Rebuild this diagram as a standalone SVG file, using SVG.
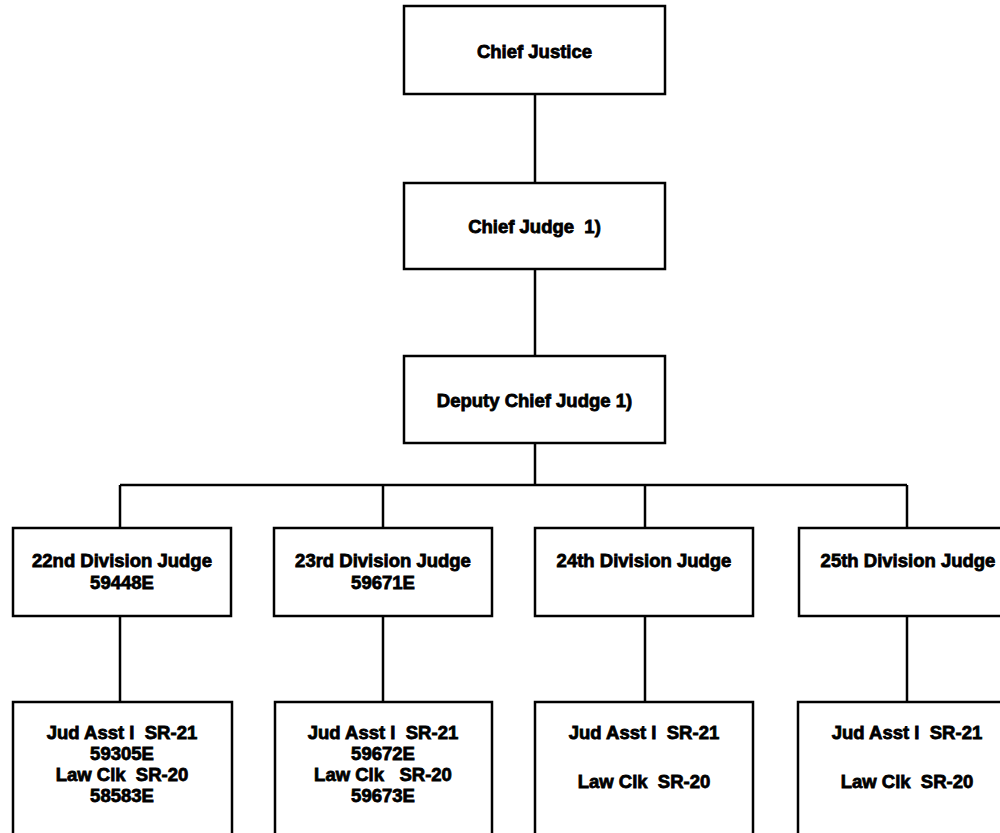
<svg xmlns="http://www.w3.org/2000/svg" width="1000" height="833" viewBox="0 0 1000 833">
<style>
.box{fill:#fff;stroke:#000;stroke-width:2.5}
.ln{fill:none;stroke:#000;stroke-width:2.5}
text{font-family:"Liberation Sans",Arial,sans-serif;font-weight:bold;font-size:18.5px;fill:#000;stroke:#000;stroke-width:0.8;text-anchor:middle;white-space:pre}
</style>
<rect width="1000" height="833" fill="#fff"/>
<g id="connectors">
<path class="ln" d="M535 94V183M535 269V356M535 443V485M120 485H907M120 485V528M383 485V528M645 485V528M907 485V528M120 616V702M383 616V702M645 616V702M907 616V702"/>
</g>
<g id="chief-justice"><rect class="box" x="404" y="6" width="261" height="88"/><text x="534.5" y="58">Chief Justice</text></g>
<g id="chief-judge"><rect class="box" x="404" y="183" width="261" height="86"/><text x="534.5" y="233">Chief Judge  1)</text></g>
<g id="deputy-chief-judge"><rect class="box" x="404" y="356" width="261" height="87"/><text x="534.5" y="407">Deputy Chief Judge 1)</text></g>
<g id="div22"><rect class="box" x="13" y="528" width="218" height="88"/><text x="122" y="567">22nd Division Judge</text><text x="122" y="589">59448E</text></g>
<g id="div23"><rect class="box" x="274" y="528" width="218" height="88"/><text x="383" y="567">23rd Division Judge</text><text x="383" y="589">59671E</text></g>
<g id="div24"><rect class="box" x="535" y="528" width="218" height="88"/><text x="644" y="567">24th Division Judge</text></g>
<g id="div25"><rect class="box" x="799" y="528" width="218" height="88"/><text x="908" y="567">25th Division Judge</text></g>
<g id="staff22"><rect class="box" x="13" y="702" width="219" height="140"/><text x="122" y="739">Jud Asst I  SR-21</text><text x="122" y="760">59305E</text><text x="122" y="781">Law Clk  SR-20</text><text x="122" y="802">58583E</text></g>
<g id="staff23"><rect class="box" x="275" y="702" width="217" height="140"/><text x="383" y="739">Jud Asst I  SR-21</text><text x="383" y="760">59672E</text><text x="383" y="781">Law Clk   SR-20</text><text x="383" y="802">59673E</text></g>
<g id="staff24"><rect class="box" x="535" y="702" width="218" height="140"/><text x="644" y="739">Jud Asst I  SR-21</text><text x="644" y="788">Law Clk  SR-20</text></g>
<g id="staff25"><rect class="box" x="798" y="702" width="219" height="140"/><text x="907" y="739">Jud Asst I  SR-21</text><text x="907" y="788">Law Clk  SR-20</text></g>
</svg>
